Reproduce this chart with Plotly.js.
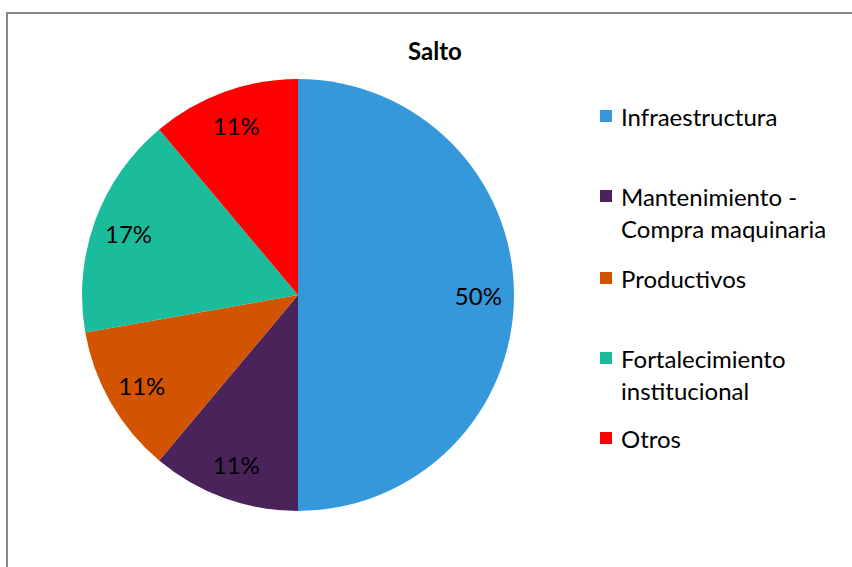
<!DOCTYPE html>
<html>
<head>
<meta charset="utf-8">
<script src="https://cdn.plot.ly/plotly-3.0.1.min.js"></script>
<style>html,body{margin:0;padding:0;background:#fff;}#chart{width:852px;height:567px;}</style>
</head>
<body>
<div id="chart"></div>
<script>
const chartTitle = "Salto";
const categories = ["Infraestructura", "Mantenimiento -<br>Compra maquinaria", "Productivos", "Fortalecimiento<br>institucional", "Otros"];
const values = [9, 2, 2, 3, 2];
const colors = ["#3598DB", "#4A235A", "#D35400", "#1ABC9C", "#FF0000"];

const W = 852, H = 567;
const FONT = "Lato, 'Open Sans', sans-serif";
const cx = 298, cy = 295, R = 216;
const domain = {x: [(cx - R) / W, (cx + R) / W], y: [1 - (cy + R) / H, 1 - (cy - R) / H]};

const pieTrace = {
  type: "pie",
  labels: categories,
  values: values,
  sort: false,
  direction: "clockwise",
  rotation: 0,
  marker: {colors: colors, line: {width: 0}},
  textinfo: "none",
  showlegend: false,
  hoverinfo: "label+percent",
  domain: domain
};
// transparent ring used only to place percentage labels at ~0.83 R
const labelTrace = {
  type: "pie",
  labels: categories,
  values: values,
  sort: false,
  direction: "clockwise",
  rotation: 0,
  hole: 0.67,
  marker: {colors: colors.map(() => "rgba(0,0,0,0)"), line: {width: 0}},
  texttemplate: "%{percent:.0%}",
  textposition: "inside",
  insidetextorientation: "horizontal",
  textfont: {family: FONT, size: 24, color: "#000"},
  showlegend: false,
  hoverinfo: "skip",
  domain: domain
};

// Legend drawn as annotations + squares
const legendFirstLineY = [116, 196, 278, 358, 438];
const lineGap = 32;
const annotations = [];
const shapes = [];
categories.forEach((lab, i) => {
  const lines = lab.split("<br>");
  lines.forEach((ln, j) => {
    annotations.push({
      xref: "paper", yref: "paper",
      x: 619 / W, y: 1 - (legendFirstLineY[i] + j * lineGap) / H,
      xanchor: "left", yanchor: "middle",
      text: ln, showarrow: false,
      font: {family: FONT, size: 24, color: "#000"}
    });
  });
  const sy = legendFirstLineY[i];
  shapes.push({
    type: "rect", xref: "paper", yref: "paper",
    x0: 600 / W, x1: 612 / W, y0: 1 - (sy + 6) / H, y1: 1 - (sy - 6) / H,
    fillcolor: colors[i], line: {width: 0}
  });
});
// chart frame
shapes.push({
  type: "rect", xref: "paper", yref: "paper",
  x0: 7 / W, x1: 1.05, y0: -0.05, y1: 1 - 13 / H,
  line: {color: "#888888", width: 2}, fillcolor: "rgba(0,0,0,0)", layer: "below"
});

const layout = {
  width: W, height: H,
  margin: {l: 0, r: 0, t: 0, b: 0},
  paper_bgcolor: "#fff",
  title: {text: "<b>" + chartTitle + "</b>", x: 435 / W, xanchor: "center", y: 1 - 52 / H, yanchor: "middle",
          font: {family: FONT, size: 24, color: "#000"}},
  annotations: annotations,
  shapes: shapes
};

Plotly.newPlot("chart", [pieTrace, labelTrace], layout, {displayModeBar: false, staticPlot: true});
</script>
</body>
</html>
